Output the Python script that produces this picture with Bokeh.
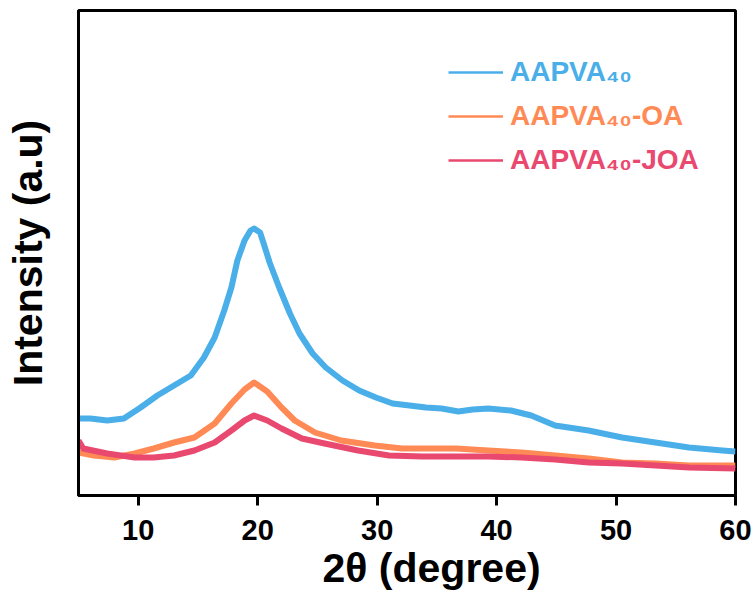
from bokeh.plotting import figure
from bokeh.models import Range1d, FixedTicker, Legend, LegendItem, Title
from bokeh.embed import file_html
from bokeh.resources import INLINE

# ---- data (arbitrary intensity units) ----
x_ticks = [10, 20, 30, 40, 50, 60]

aapva_x = [5.0, 6.0, 7.4, 8.8, 10.2, 11.6, 13.0, 14.4, 15.5, 16.4, 17.2, 17.8, 18.3, 18.9, 19.4, 19.7,
           20.2, 20.5, 21.0, 21.8, 22.7, 23.5, 24.6, 25.7, 27.1, 28.5, 29.9, 31.3, 32.7, 34.1, 35.4,
           36.8, 38.0, 39.3, 41.2, 42.9, 44.9, 47.7, 50.5, 53.3, 56.1, 58.9, 60.0]
aapva_y = [77, 77, 75, 77, 88, 100, 110, 120, 138, 158, 185, 208, 235, 255, 265, 267,
           263, 252, 233, 208, 182, 162, 142, 128, 115, 105, 98, 92, 90, 88, 87,
           84, 86, 87, 85, 80, 70, 65, 58, 53, 48, 45, 44]

oa_x = [5.0, 6.3, 8.0, 9.7, 11.3, 13.0, 14.7, 16.4, 17.8, 18.9, 19.7, 20.8, 22.0, 23.1, 24.8, 27.0,
        29.8, 32.1, 33.8, 36.6, 39.3, 42.1, 44.9, 47.7, 50.5, 53.3, 56.1, 60.0]
oa_y = [43, 40, 38, 42, 47, 53, 58, 72, 92, 106, 113, 104, 88, 75, 63, 55,
        50, 47, 47, 47, 45, 43, 40, 37, 33, 32, 30, 30]

joa_x = [5.0, 5.4, 7.4, 9.7, 11.3, 13.0, 14.7, 16.4, 17.8, 18.9, 19.7, 20.8, 22.0, 23.7, 25.6, 28.4,
         31.0, 33.8, 36.6, 39.3, 42.1, 44.9, 47.7, 50.5, 53.3, 56.1, 60.0]
joa_y = [55, 47, 42, 38, 38, 40, 45, 53, 65, 75, 80, 75, 67, 57, 52, 45,
         40, 39, 39, 39, 38, 36, 33, 32, 30, 28, 27]

names = ["AAPVA\u2084\u2080", "AAPVA\u2084\u2080-OA", "AAPVA\u2084\u2080-JOA"]
colors = ["#4AAEE8", "#FF8A55", "#E9486F"]

FONT = "Liberation Sans"

p = figure(width=756, height=594, output_backend="svg", toolbar_location=None,
           x_range=Range1d(5, 60), y_range=Range1d(0, 485),
           min_border_left=78, min_border_right=21, min_border_top=10, min_border_bottom=99)
p.background_fill_color = "white"
p.border_fill_color = "white"
p.grid.visible = False
p.outline_line_color = "black"
p.outline_line_width = 3

# data lines
series = [(aapva_x, aapva_y), (oa_x, oa_y), (joa_x, joa_y)]
for (xs, ys), c in zip(series, colors):
    p.line(xs, ys, line_color=c, line_width=6, line_join="round")

# x axis
xa = p.xaxis[0]
xa.ticker = FixedTicker(ticks=x_ticks)
xa.axis_line_width = 3
xa.axis_line_color = "black"
xa.major_tick_line_width = 3
xa.major_tick_line_color = "black"
xa.major_tick_out = 10
xa.major_tick_in = 0
xa.minor_tick_line_color = None
xa.major_label_text_font = FONT
xa.major_label_text_font_style = "bold"
xa.major_label_text_font_size = "29px"
xa.major_label_text_color = "black"
xa.major_label_standoff = 14

# y axis (no ticks)
ya = p.yaxis[0]
ya.ticker = FixedTicker(ticks=[])
ya.axis_line_width = 3
ya.axis_line_color = "black"
ya.major_tick_line_color = None
ya.minor_tick_line_color = None
ya.axis_label = "Intensity (a.u)"
ya.axis_label_text_font = FONT
ya.axis_label_text_font_style = "bold"
ya.axis_label_text_font_size = "41px"
ya.axis_label_text_color = "black"
ya.axis_label_standoff = 28

# x-axis title (shifted right of centre as in the reference)
p.add_layout(Title(text="2\u03b8 (degree)", align="left", offset=244, standoff=0,
                   text_font=FONT, text_font_style="bold", text_font_size="41px",
                   text_color="black"), "below")

# legend: one legend per entry so each label can take its own colour
for i, (name, c) in enumerate(zip(names, colors)):
    r = p.line([float("nan")], [float("nan")], line_color=c, line_width=2.5)
    leg = Legend(items=[LegendItem(label=name, renderers=[r])],
                 location=(370, 407 - 44 * i),
                 glyph_width=55, glyph_height=28, label_height=28, label_standoff=7,
                 padding=0, margin=0, spacing=0,
                 border_line_color=None, background_fill_alpha=0,
                 label_text_font=FONT, label_text_font_style="bold",
                 label_text_font_size="28px", label_text_color=c)
    p.add_layout(leg)

open("out.html", "w").write(file_html(p, INLINE))
